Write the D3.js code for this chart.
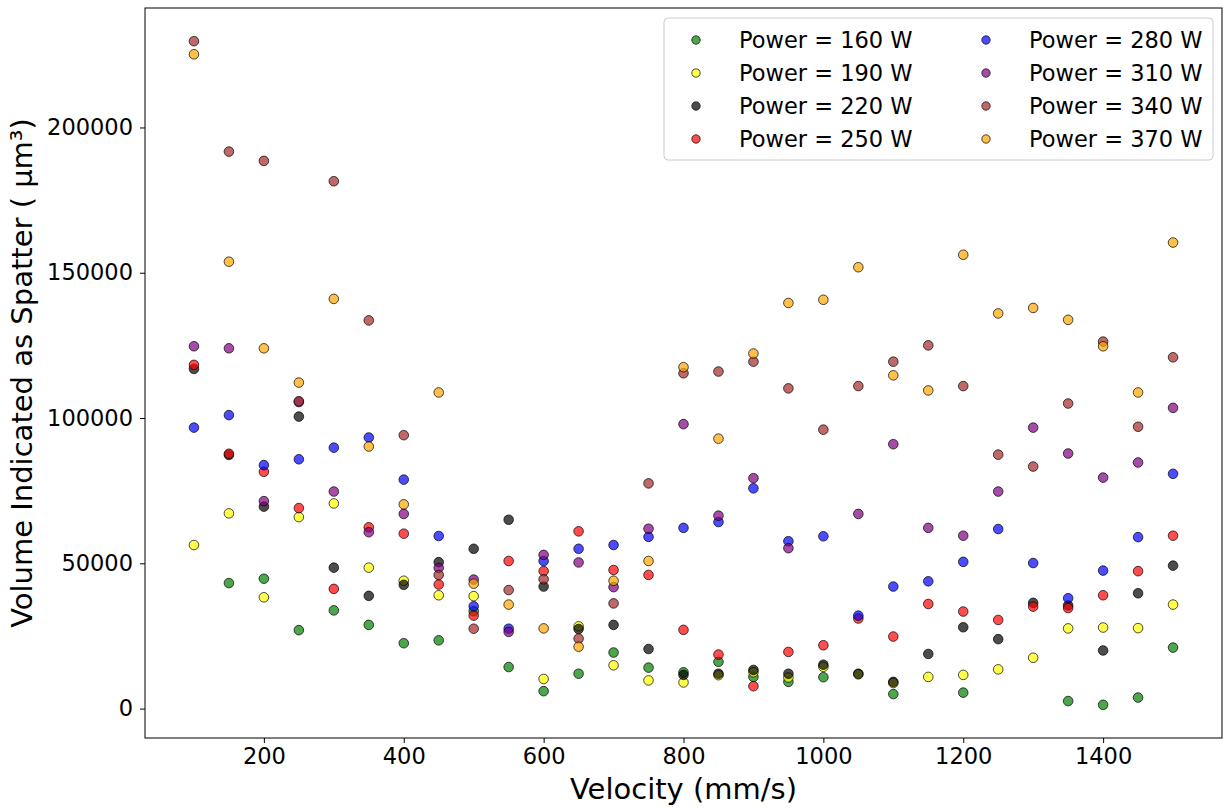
<!DOCTYPE html>
<html>
<head>
<meta charset="utf-8">
<script src="https://cdn.jsdelivr.net/npm/d3@7"></script>
<style>
  body { margin: 0; background: #fff; }
  text { font-family: "DejaVu Sans", sans-serif; }
</style>
</head>
<body>
<div id="chart"></div>
<script>
// velocities (mm/s)
var velocity = d3.range(100, 1501, 50);

// spatter volume per power level (um^3), null = no point shown
var p160 = [null, 43200, 44700, 27000, 33800, 28800, 22500, 23500, 33500, 14300, 6000, 12000, 19300, 14100, 12500, 16100, 10900, 9200, 10800, null, 5000, null, 5500, null, null, 2600, 1300, 3800, 21000];
var p190 = [56300, 67200, 38300, 65900, 70600, 48500, 44000, 39000, 38700, null, 10200, 28300, 14900, 9700, 9000, 11500, 12500, 10700, 14400, 11800, 8800, 10900, 11600, 13500, 17500, 27600, 27900, 27700, 35800];
var p220 = [116900, 87300, 69500, 100500, 48500, 38800, 42600, 50400, 55000, 65000, 42000, 27400, 28800, 20500, 11600, 12000, 13300, 12000, 15100, 12000, 9200, 18800, 28000, 23900, 36400, 35500, 20000, 39700, 49200];
var p250 = [118300, 87700, 81500, 69000, 41200, 62400, 60200, 42700, 32000, 50800, 47300, 61000, 47700, 46000, 27100, 18600, 7700, 19500, 21800, 31000, 24800, 36000, 33400, 30500, 35100, 34600, 39000, 47300, 59500];
var p280 = [96700, 101000, 83800, 85800, 89800, 93300, 78800, 59400, 35200, 27500, 50800, 55000, 56300, 59100, 62200, 64200, 75800, 57600, 59300, 32000, 42000, 43800, 50500, 61800, 50100, 38000, 47500, 59000, 80800];
var p310 = [124700, 124000, 71400, 105500, 74700, 60700, 67000, 48400, 44400, 26400, 52900, 50300, 41800, 61900, 97900, 66400, 79300, 55200, null, 67000, 91000, 62200, 59500, 74700, 96700, 87800, 79500, 84700, 103500];
var p340 = [229700, 191700, 188500, 105800, 181500, 133600, 94100, 46000, 27500, 40800, 44500, 24100, 36200, 77500, 115400, 116000, 119400, 110200, 96000, 111000, 119400, 125000, 111000, 87400, 83300, 105000, 126300, 97000, 120900];
var p370 = [225200, 153800, 124000, 112200, 141000, 90200, 70300, 108800, 43000, 35800, 27600, 21300, 44000, 50800, 117500, 92900, 122200, 139600, 140700, 151900, 114700, 109500, 156200, 136000, 137900, 133800, 124700, 108800, 160400];

var powers = [160, 190, 220, 250, 280, 310, 340, 370];
var colors = ["green", "yellow", "black", "red", "blue", "purple", "brown", "orange"];
var seriesValues = [p160, p190, p220, p250, p280, p310, p340, p370];

var xTicks = [200, 400, 600, 800, 1000, 1200, 1400];
var yTicks = [0, 50000, 100000, 150000, 200000];

// dimensions
var W = 1223, H = 809;
var margin = {top: 8, right: 1, bottom: 71, left: 145};
var width = W - margin.left - margin.right,
    height = H - margin.top - margin.bottom;

var svg = d3.select("#chart")
  .append("svg")
    .attr("width", W)
    .attr("height", H)
  .append("g")
    .attr("transform", "translate(" + margin.left + "," + margin.top + ")");

// domains with 5% padding like matplotlib
var allY = d3.merge(seriesValues);
var xMin = d3.min(velocity), xMax = d3.max(velocity);
var yMin = d3.min(allY), yMax = d3.max(allY);
var xPad = (xMax - xMin) * 0.05, yPad = (yMax - yMin) * 0.05;

var x = d3.scaleLinear()
  .domain([xMin - xPad, xMax + xPad])
  .range([0, width]);
var y = d3.scaleLinear()
  .domain([yMin - yPad, yMax + yPad])
  .range([height, 0]);

// axes
var xAxis = svg.append("g")
  .attr("transform", "translate(0," + height + ")")
  .call(d3.axisBottom(x).tickValues(xTicks).tickSize(5).tickPadding(5).tickFormat(d3.format("d")));
var yAxis = svg.append("g")
  .call(d3.axisLeft(y).tickValues(yTicks).tickSize(5).tickPadding(7).tickFormat(d3.format("d")));

[xAxis, yAxis].forEach(function(a) {
  a.select(".domain").remove();
  a.selectAll("line").attr("stroke", "#000").attr("stroke-width", 1);
  a.selectAll("text").style("font-size", "22.5px").attr("fill", "#000");
});

// frame
svg.append("rect")
  .attr("x", 0).attr("y", 0)
  .attr("width", width).attr("height", height)
  .attr("fill", "none")
  .attr("stroke", "#000")
  .attr("stroke-width", 1);

// points
seriesValues.forEach(function(vals, k) {
  var pts = velocity.map(function(v, i) { return {v: v, s: vals[i]}; })
    .filter(function(d) { return d.s != null; });
  svg.append("g")
    .selectAll("circle")
    .data(pts)
    .enter()
    .append("circle")
      .attr("cx", function(d) { return x(d.v); })
      .attr("cy", function(d) { return y(d.s); })
      .attr("r", 4.8)
      .attr("fill", colors[k])
      .attr("fill-opacity", 0.7)
      .attr("stroke", "#000")
      .attr("stroke-opacity", 0.7)
      .attr("stroke-width", 1);
});

// axis labels
svg.append("text")
  .attr("x", width / 2)
  .attr("y", height + 61)
  .attr("text-anchor", "middle")
  .style("font-size", "29px")
  .text("Velocity (mm/s)");

svg.append("text")
  .attr("transform", "translate(" + (-113) + "," + (height / 2) + ") rotate(-90)")
  .attr("text-anchor", "middle")
  .style("font-size", "29px")
  .text("Volume Indicated as Spatter ( µm³)");

// legend
var legend = svg.append("g")
  .attr("transform", "translate(" + (664 - margin.left) + "," + (18 - margin.top) + ")");
legend.append("rect")
  .attr("width", 549).attr("height", 142)
  .attr("rx", 4)
  .attr("fill", "#fff")
  .attr("fill-opacity", 0.8)
  .attr("stroke", "#ccc");

powers.forEach(function(p, k) {
  var col = Math.floor(k / 4), row = k % 4;
  var gx = col * 290, gy = 22 + row * 33;
  legend.append("circle")
    .attr("cx", 32 + gx).attr("cy", gy)
    .attr("r", 4.2)
    .attr("fill", colors[k])
    .attr("fill-opacity", 0.7)
    .attr("stroke", "#000")
    .attr("stroke-opacity", 0.7);
  legend.append("text")
    .attr("x", 75 + gx).attr("y", gy)
    .attr("dy", "0.35em")
    .style("font-size", "22.5px")
    .text("Power = " + p + " W");
});
</script>
</body>
</html>
